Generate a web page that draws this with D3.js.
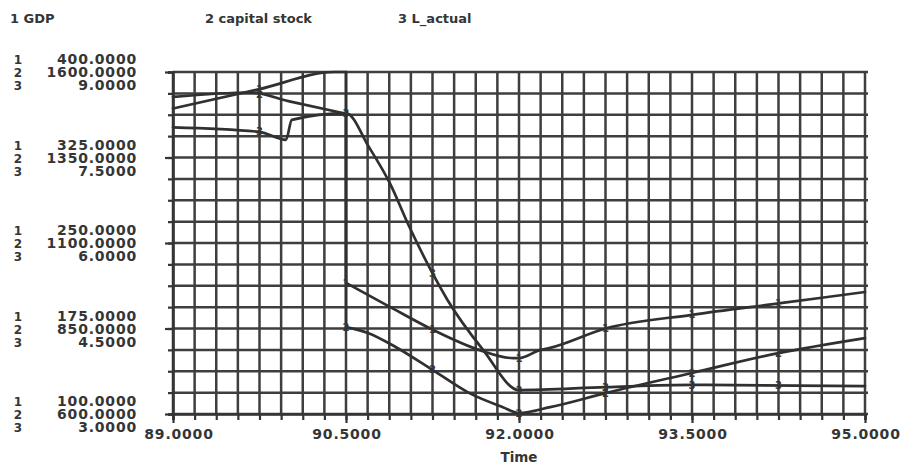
<!DOCTYPE html>
<html>
<head>
<meta charset="utf-8">
<script src="https://cdn.jsdelivr.net/npm/d3@7"></script>
<style>
  html, body { margin: 0; padding: 0; background: #ffffff; }
  svg { display: block; }
  text { font-family: "DejaVu Sans", sans-serif; font-weight: bold; fill: #353535; }
</style>
</head>
<body>
<svg id="chart" width="902" height="468"></svg>
<script>
// ---------- data ----------
const seriesNames = ["GDP", "capital stock", "L_actual"];

const gdpTime   = [89, 89.75, 90.4, 90.5, 90.5, 90.88, 91.25, 91.66, 91.95, 92.0, 92.18, 92.27, 92.75, 93.5, 94.25, 95];
const gdpValues = [368, 385, 400, 400, 215, 194, 174, 156, 149, 149, 156, 158, 175, 187, 197, 207];

const capTime   = [89, 89.67, 90.0, 90.5, 90.5, 90.69, 90.93, 91.25, 91.57, 91.86, 92.0, 92.27, 92.75, 93.5, 94.25, 95];
const capValues = [1527, 1540, 1515, 1478, 854, 837, 796, 729, 661, 620, 603, 620, 661, 720, 778, 822];

const labTime   = [89, 89.75, 89.98, 90.03, 90.5, 90.7, 90.88, 91.05, 91.25, 91.38, 91.69, 92.0, 92.75, 93.5, 95];
const labValues = [8.03, 7.95, 7.81, 8.16, 8.28, 7.68, 7.05, 6.28, 5.47, 5.0, 4.12, 3.42, 3.47, 3.51, 3.49];

const gdpTicks = [400, 325, 250, 175, 100];
const capTicks = [1600, 1350, 1100, 850, 600];
const labTicks = [9, 7.5, 6, 4.5, 3];
const timeTicks = [89, 90.5, 92, 93.5, 95];
const markerTimes = [89.75, 90.5, 91.25, 92, 92.75, 93.5, 94.25];

// ---------- layout ----------
const svg = d3.select("#chart");
const L = 173, R = 865, T = 72, B = 414;
const ink = "#353535";

const x = d3.scaleLinear().domain([89, 95]).range([L, R]);
const yG = d3.scaleLinear().domain([100, 400]).range([B, T]);
const yC = d3.scaleLinear().domain([600, 1600]).range([B, T]);
const yL = d3.scaleLinear().domain([3, 9]).range([B, T]);

const fmt = d3.format(".4f");

// grid: 8 columns per major x step, 4 rows per major y step
const xGrid = d3.range(0, 33).map(i => 89 + i * 0.1875);
const yGrid = d3.range(0, 17).map(i => 100 + i * 18.75);

const grid = svg.append("g");
grid.selectAll("line.v").data(xGrid).join("line")
  .attr("x1", d => x(d)).attr("x2", d => x(d))
  .attr("y1", T).attr("y2", B)
  .attr("stroke", "#3e3e3e").attr("stroke-width", 2.5);
grid.selectAll("line.h").data(yGrid).join("line")
  .attr("x1", L).attr("x2", R + 3)
  .attr("y1", d => yG(d)).attr("y2", d => yG(d))
  .attr("stroke", "#3e3e3e").attr("stroke-width", 2.5);

// bottom ticks
const bottom = svg.append("g").attr("transform", `translate(0,${B})`)
  .call(d3.axisBottom(x).tickValues(xGrid).tickSize(6).tickFormat(""));
bottom.select(".domain").attr("stroke", ink).attr("stroke-width", 2.6);
bottom.selectAll(".tick line").attr("stroke", ink).attr("stroke-width", 2.2);
const bottomMajor = svg.append("g").attr("transform", `translate(0,${B})`)
  .call(d3.axisBottom(x).tickValues(timeTicks).tickSize(9).tickFormat(""));
bottomMajor.select(".domain").remove();
bottomMajor.selectAll(".tick line").attr("stroke", ink).attr("stroke-width", 2.2);

// left ticks
const left = svg.append("g").attr("transform", `translate(${L},0)`)
  .call(d3.axisLeft(yG).tickValues(yGrid).tickSize(5).tickFormat(""));
left.select(".domain").attr("stroke", ink).attr("stroke-width", 2.6);
left.selectAll(".tick line").attr("stroke", ink).attr("stroke-width", 2.2);
const leftMajor = svg.append("g").attr("transform", `translate(${L},0)`)
  .call(d3.axisLeft(yG).tickValues(gdpTicks).tickSize(8).tickFormat(""));
leftMajor.select(".domain").remove();
leftMajor.selectAll(".tick line").attr("stroke", ink).attr("stroke-width", 2.2);

// x tick labels
svg.append("g").selectAll("text").data(timeTicks).join("text")
  .attr("x", (d, i) => x(d) + (i === 0 ? 6 : 1))
  .attr("y", 439)
  .attr("text-anchor", "middle")
  .attr("font-size", 14).attr("letter-spacing", 0.8)
  .text(d => fmt(d));

svg.append("text").attr("x", x(92)).attr("y", 462)
  .attr("text-anchor", "middle").attr("font-size", 13.5).text("Time");

// y tick labels: three stacked values per major gridline
const labelRows = gdpTicks.map((g, i) => ({ g, c: capTicks[i], l: labTicks[i] }));
const ylab = svg.append("g");
labelRows.forEach(r => {
  const yc = yC(r.c);
  [[r.g, -13, "1"], [r.c, 0, "2"], [r.l, 13, "3"]].forEach(([v, off, num]) => {
    ylab.append("text").attr("x", 137).attr("y", yc + off + 5)
      .attr("text-anchor", "end").attr("font-size", 14).attr("letter-spacing", 0.8)
      .text(fmt(v));
    ylab.append("text").attr("x", 18).attr("y", yc + off + 5)
      .attr("text-anchor", "middle").attr("font-size", 12).text(num);
  });
});

// legend
const legendItems = [
  { num: "1", name: seriesNames[0], x: 10 },
  { num: "2", name: seriesNames[1], x: 205 },
  { num: "3", name: seriesNames[2], x: 398 }
];
svg.append("g").selectAll("text").data(legendItems).join("text")
  .attr("x", d => d.x).attr("y", 23).attr("font-size", 13)
  .text(d => d.num + " " + d.name);

// ---------- series ----------
const series = [
  { t: gdpTime, v: gdpValues, y: yG, num: "1" },
  { t: capTime, v: capValues, y: yC, num: "2" },
  { t: labTime, v: labValues, y: yL, num: "3" }
];

const lines = svg.append("g");
series.forEach(s => {
  const pts = s.t.map((t, i) => [t, s.v[i]]);
  // split into runs of strictly increasing time; jumps are drawn as vertical steps
  const runs = [[pts[0]]];
  for (let i = 1; i < pts.length; i++) {
    if (pts[i][0] === pts[i - 1][0]) runs.push([pts[i]]);
    else runs[runs.length - 1].push(pts[i]);
  }
  const smooth = d3.line().x(d => x(d[0])).y(d => s.y(d[1])).curve(d3.curveMonotoneX);
  runs.forEach((run, k) => {
    lines.append("path").datum(run).attr("d", smooth)
      .attr("fill", "none").attr("stroke", "#303030")
      .attr("stroke-width", 2.7).attr("stroke-linejoin", "round").attr("stroke-linecap", "round");
    if (k > 0) {
      const a = runs[k - 1][runs[k - 1].length - 1], b = run[0];
      lines.append("line")
        .attr("x1", x(a[0])).attr("y1", s.y(a[1]))
        .attr("x2", x(b[0])).attr("y2", s.y(b[1]))
        .attr("stroke", "#303030").attr("stroke-width", 2.7).attr("stroke-linecap", "round");
    }
  });
});

// curve number markers
function valueAt(s, t) {
  const i = d3.bisectRight(s.t, t);
  if (i > 0 && s.t[i - 1] === t) return s.v[i - 1];
  if (i <= 0) return s.v[0];
  if (i >= s.t.length) return s.v[s.v.length - 1];
  const t0 = s.t[i - 1], t1 = s.t[i];
  const k = (t - t0) / (t1 - t0);
  return s.v[i - 1] + k * (s.v[i] - s.v[i - 1]);
}
const marks = svg.append("g");
series.forEach(s => {
  markerTimes.forEach(t => {
    marks.append("text")
      .attr("x", x(t)).attr("y", s.y(valueAt(s, t)))
      .attr("dy", "0.36em").attr("text-anchor", "middle")
      .attr("font-size", 10).attr("fill", "#303030")
      .text(s.num);
  });
});
</script>
</body>
</html>
